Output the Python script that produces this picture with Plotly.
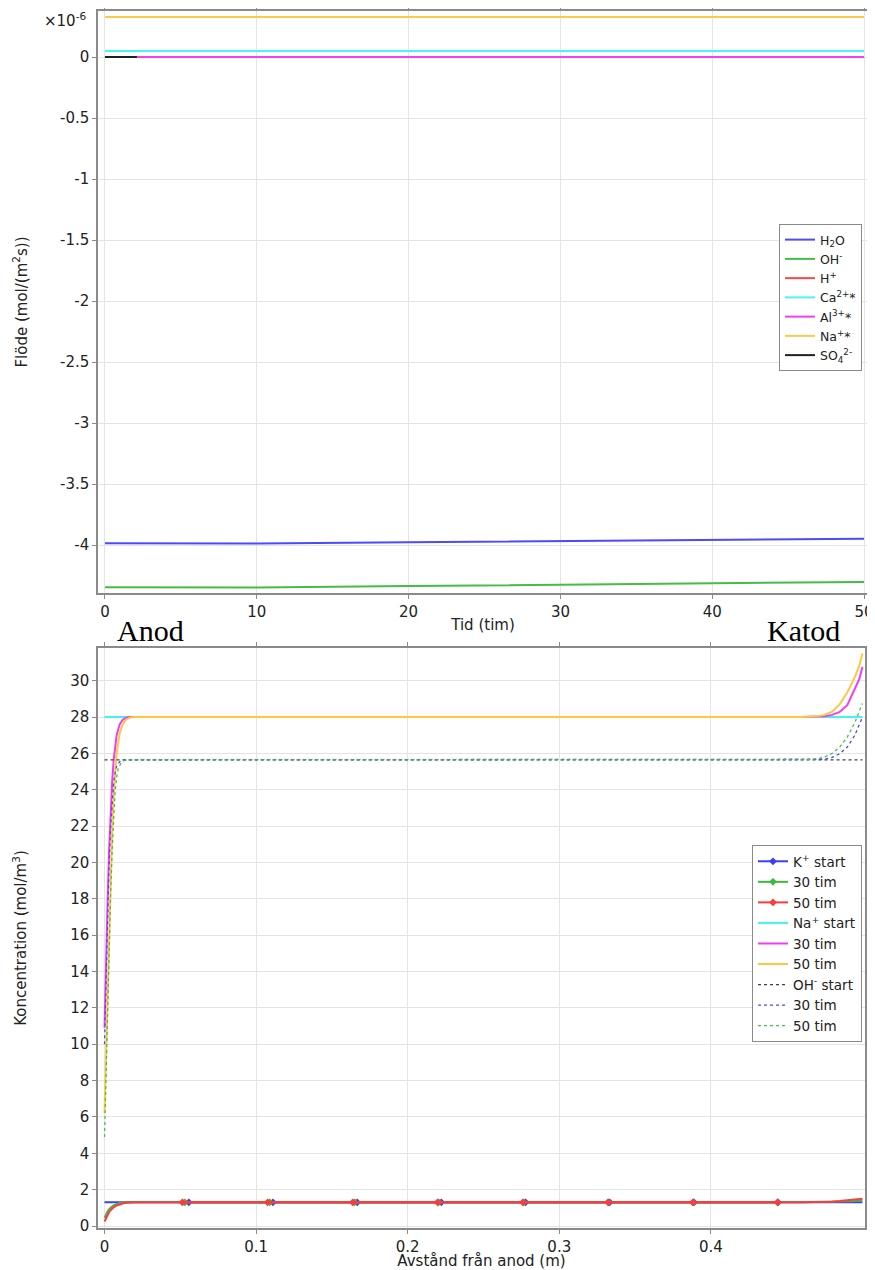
import plotly.graph_objects as go

# ---------------- data: top plot (flux, x1e-6 mol/(m2 s)) ----------------
time_h = [0, 10, 20, 30, 40, 50]
flux_h2o = [-3.985, -3.987, -3.978, -3.968, -3.958, -3.948]
flux_oh = [-4.345, -4.347, -4.336, -4.325, -4.313, -4.302]
flux_h = [0.0, 0.0, 0.0, 0.0, 0.0, 0.0]
flux_ca = [0.05, 0.05, 0.05, 0.05, 0.05, 0.05]
flux_al = [0.0, 0.0, 0.0, 0.0, 0.0, 0.0]
flux_na = [0.328, 0.328, 0.328, 0.328, 0.328, 0.328]
time_so4 = [0, 2.1]
flux_so4 = [0.0, 0.0]

top_ytickvals = [-4, -3.5, -3, -2.5, -2, -1.5, -1, -0.5, 0]
top_yticktext = ["-4", "-3.5", "-3", "-2.5", "-2", "-1.5", "-1", "-0.5", "0"]
top_xtickvals = [0, 10, 20, 30, 40, 50]

# ---------------- data: bottom plot (concentration, mol/m3) ----------------
k_start_x = [0, 0.5]
k_start_y = [1.3, 1.3]
k30_x = [0, 0.001, 0.002, 0.003, 0.004, 0.006, 0.008, 0.010, 0.013, 0.016,
         0.46, 0.47, 0.48, 0.485, 0.49, 0.495, 0.5]
k30_y = [0.45, 0.65, 0.80, 0.92, 1.01, 1.13, 1.21, 1.26, 1.29, 1.30,
         1.30, 1.305, 1.32, 1.335, 1.355, 1.38, 1.42]
k50_x = [0, 0.001, 0.002, 0.003, 0.004, 0.006, 0.008, 0.010, 0.013, 0.016, 0.02,
         0.46, 0.47, 0.48, 0.485, 0.49, 0.495, 0.5]
k50_y = [0.25, 0.45, 0.62, 0.76, 0.87, 1.03, 1.13, 1.20, 1.26, 1.29, 1.30,
         1.30, 1.31, 1.34, 1.37, 1.40, 1.44, 1.50]

k_start_mx = [0.0556, 0.1111, 0.1667, 0.2222, 0.2778, 0.3333, 0.3889, 0.4444]
k_start_my = [1.3, 1.3, 1.3, 1.3, 1.3, 1.3, 1.3, 1.3]
k30_mx = [0.0530, 0.1090, 0.1650, 0.2205, 0.2765, 0.3325, 0.3884, 0.4442]
k30_my = [1.3, 1.3, 1.3, 1.3, 1.3, 1.3, 1.3, 1.3]
k50_mx = [0.0514, 0.1076, 0.1638, 0.2197, 0.2760, 0.3322, 0.3881, 0.4440]
k50_my = [1.3, 1.3, 1.3, 1.3, 1.3, 1.3, 1.3, 1.3]

na_start_x = [0, 0.5]
na_start_y = [28.0, 28.0]
na30_x = [0, 0.001, 0.002, 0.003, 0.004, 0.005, 0.006, 0.007, 0.008, 0.010, 0.012, 0.014, 0.016,
          0.46, 0.47, 0.475, 0.48, 0.485, 0.49, 0.495, 0.498, 0.5]
na30_y = [10.9, 14.8, 17.8, 20.6, 22.8, 24.4, 25.6, 26.4, 27.0, 27.6, 27.85, 27.95, 28.0,
          28.0, 28.02, 28.05, 28.12, 28.28, 28.65, 29.5, 30.1, 30.75]
na50_x = [0, 0.001, 0.002, 0.003, 0.004, 0.005, 0.006, 0.007, 0.008, 0.010, 0.012, 0.014, 0.017, 0.02,
          0.46, 0.47, 0.475, 0.48, 0.485, 0.49, 0.495, 0.498, 0.5]
na50_y = [6.2, 9.3, 13.0, 16.4, 19.0, 21.6, 23.7, 25.0, 26.0, 27.1, 27.6, 27.85, 27.98, 28.0,
          28.0, 28.05, 28.12, 28.3, 28.7, 29.35, 30.2, 30.85, 31.5]

oh_start_x = [0, 0.5]
oh_start_y = [25.65, 25.65]
oh30_x = [0, 0.001, 0.002, 0.003, 0.004, 0.005, 0.006, 0.007, 0.008, 0.010, 0.012, 0.015,
          0.465, 0.475, 0.48, 0.485, 0.49, 0.495, 0.5]
oh30_y = [10.0, 13.8, 17.0, 19.8, 21.9, 23.4, 24.4, 24.95, 25.3, 25.55, 25.62, 25.65,
          25.65, 25.68, 25.78, 25.98, 26.35, 27.0, 28.0]
oh50_x = [0, 0.001, 0.002, 0.003, 0.004, 0.005, 0.006, 0.007, 0.008, 0.009, 0.011, 0.013, 0.016,
          0.46, 0.47, 0.475, 0.48, 0.485, 0.49, 0.495, 0.5]
oh50_y = [4.9, 8.5, 12.3, 15.6, 18.3, 20.6, 22.5, 23.9, 24.7, 25.15, 25.5, 25.6, 25.65,
          25.65, 25.7, 25.8, 26.0, 26.35, 26.9, 27.7, 28.75]

bot_ytickvals = list(range(0, 31, 2))
bot_xtickvals = [0, 0.1, 0.2, 0.3, 0.4]
bot_xticktext = ["0", "0.1", "0.2", "0.3", "0.4"]

# ---------------- layout helpers (page pixels -> paper fractions) ----------------
PAGE_OFF = 8                      # default body margin of the html page
W, H = 875 - PAGE_OFF, 1270 - PAGE_OFF
ML, MR, MT, MB = 90, 7, 3, 42
PW, PH = W - ML - MR, H - MT - MB


def px_x(page_x):
    return (page_x - PAGE_OFF - ML) / PW


def px_y(page_y):
    return (H - MB - (page_y - PAGE_OFF)) / PH


FONT = "DejaVu Sans"
GRID = "#e4e4e4"
AXLINE = "#8a8a8a"

fig = go.Figure()

# ---------------- top traces ----------------
top_series = [
    ("H<sub>2</sub>O", time_h, flux_h2o, "#4a4aff"),
    ("OH<sup>-</sup>", time_h, flux_oh, "#46bb46"),
    ("H<sup>+</sup>", time_h, flux_h, "#ff4848"),
    ("Ca<sup>2+</sup>*", time_h, flux_ca, "#48f4f4"),
    ("Al<sup>3+</sup>*", time_h, flux_al, "#f040f0"),
    ("Na<sup>+</sup>*", time_h, flux_na, "#ffc846"),
    ("SO<sub>4</sub><sup>2-</sup>", time_so4, flux_so4, "#202020"),
]
for name, xs, ys, col in top_series:
    fig.add_trace(go.Scatter(x=xs, y=ys, mode="lines", name=name,
                             line=dict(color=col, width=2),
                             xaxis="x", yaxis="y", legend="legend"))

# ---------------- bottom traces ----------------
marker_series = [
    ("K<sup>+</sup> start", k_start_x, k_start_y, k_start_mx, k_start_my, "#3c3cff"),
    ("30 tim", k30_x, k30_y, k30_mx, k30_my, "#3fb83f"),
    ("50 tim", k50_x, k50_y, k50_mx, k50_my, "#ff3a3a"),
]
for name, xs, ys, mx, my, col in marker_series:
    fig.add_trace(go.Scatter(x=xs, y=ys, mode="lines", showlegend=False,
                             line=dict(color=col, width=2),
                             xaxis="x2", yaxis="y2"))
    fig.add_trace(go.Scatter(x=mx, y=my, mode="lines+markers", name=name,
                             line=dict(color=col, width=2),
                             marker=dict(color=col, size=6, symbol="diamond"),
                             xaxis="x2", yaxis="y2", legend="legend2"))

line_series = [
    ("Na<sup>+</sup> start", na_start_x, na_start_y, "#40f4f4", "solid"),
    ("30 tim", na30_x, na30_y, "#f23cf2", "solid"),
    ("50 tim", na50_x, na50_y, "#ffc640", "solid"),
    ("OH<sup>-</sup> start", oh_start_x, oh_start_y, "#404040", "dot"),
    ("30 tim", oh30_x, oh30_y, "#4848ff", "dot"),
    ("50 tim", oh50_x, oh50_y, "#44c444", "dot"),
]
for name, xs, ys, col, dash in line_series:
    fig.add_trace(go.Scatter(x=xs, y=ys, mode="lines", name=name,
                             line=dict(color=col, width=2 if dash == "solid" else 1.3, dash=dash),
                             xaxis="x2", yaxis="y2", legend="legend2"))

axis_common = dict(showgrid=True, gridcolor=GRID, gridwidth=1, zeroline=False,
                   showline=True, linecolor=AXLINE, linewidth=1.5, mirror="ticks",
                   ticks="outside", ticklen=4, tickcolor=AXLINE,
                   tickfont=dict(family=FONT, size=15, color="#222"))

legend_common = dict(bgcolor="white", bordercolor="#8a8a8a", borderwidth=1,
                     itemwidth=30, xanchor="right", yanchor="top", tracegroupgap=0)

fig.update_layout(
    width=W, height=H,
    margin=dict(l=ML, r=MR, t=MT, b=MB, autoexpand=False),
    paper_bgcolor="white", plot_bgcolor="white",
    font=dict(family=FONT, size=15, color="#222"),
    xaxis=dict(domain=[0, 1], anchor="y", range=[-0.46, 50.26],
               tickvals=top_xtickvals, ticklabeloverflow="allow",
               title=dict(text="Tid (tim)", standoff=0, font=dict(family=FONT, size=15)),
               **axis_common),
    yaxis=dict(domain=[px_y(593), px_y(11)], anchor="x", range=[-4.393, 0.377],
               tickvals=top_ytickvals, ticktext=top_yticktext,
               title=dict(text="Flöde (mol/(m<sup>2</sup>s))", standoff=29,
                          font=dict(family=FONT, size=15)),
               **axis_common),
    xaxis2=dict(domain=[0, px_x(865)], anchor="y2", range=[-0.0043, 0.5017],
                tickvals=bot_xtickvals, ticktext=bot_xticktext,
                title=dict(text="Avstånd från anod (m)", standoff=6,
                           font=dict(family=FONT, size=15)),
                **axis_common),
    yaxis2=dict(domain=[px_y(1228), px_y(648)], anchor="x2", range=[-0.11, 31.8],
                tickvals=bot_ytickvals,
                title=dict(text="Koncentration (mol/m<sup>3</sup>)", standoff=40,
                           font=dict(family=FONT, size=15)),
                **axis_common),
    legend=dict(x=px_x(862), y=px_y(224), font=dict(family=FONT, size=12.5, color="#222"),
                **legend_common),
    legend2=dict(x=px_x(862), y=px_y(845), font=dict(family=FONT, size=13.5, color="#222"),
                 **legend_common),
    annotations=[
        dict(text="×10<sup>-6</sup>", xref="paper", yref="paper",
             x=px_x(42), y=px_y(20), xanchor="left", yanchor="middle",
             showarrow=False, font=dict(family=FONT, size=15, color="#222")),
        dict(text="Anod", xref="paper", yref="paper",
             x=px_x(115), y=px_y(630), xanchor="left", yanchor="middle",
             showarrow=False, font=dict(family="Liberation Serif", size=30, color="black")),
        dict(text="Katod", xref="paper", yref="paper",
             x=px_x(842), y=px_y(630), xanchor="right", yanchor="middle",
             showarrow=False, font=dict(family="Liberation Serif", size=30, color="black")),
    ],
)

fig.write_html("out.html")
